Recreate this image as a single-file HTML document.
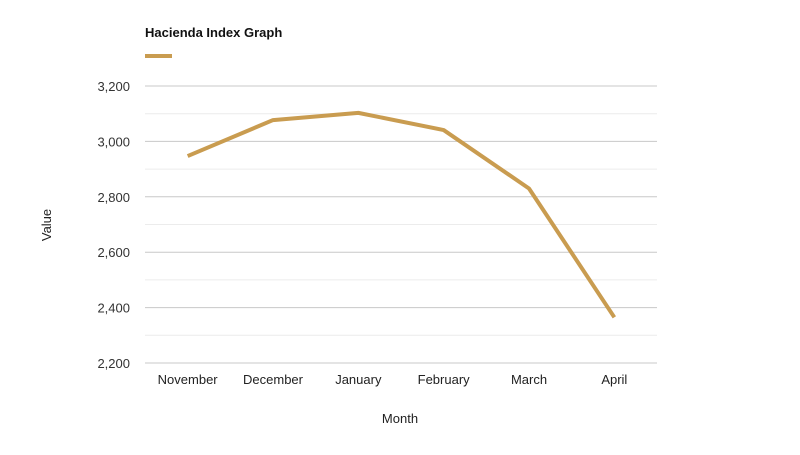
<!DOCTYPE html>
<html><head><meta charset="utf-8"><style>
body{margin:0;background:#fff;font-family:"Liberation Sans",sans-serif;}
svg text{font-family:"Liberation Sans",sans-serif;}
</style></head><body>
<svg id="chart" width="800" height="450">
<text x="145" y="37" font-size="13" font-weight="bold" fill="#111">Hacienda Index Graph</text>
<line x1="145" y1="56" x2="172" y2="56" stroke="#c99c50" stroke-width="4"/>
<g id="grid"></g><g id="yticks"></g><g id="xticks"></g>
<text x="400" y="423" font-size="13" text-anchor="middle" fill="#222">Month</text>
<text transform="translate(51,225) rotate(-90)" font-size="13" text-anchor="middle" fill="#222">Value</text>
<path id="line" fill="none" stroke="#c99c50" stroke-width="4" stroke-linejoin="round"/>
</svg>
<script>
const categories=["November","December","January","February","March","April"];
const values=[2947,3077,3103,3041,2830,2365];
const yTicks=[2200,2400,2600,2800,3000,3200];
const ns="http://www.w3.org/2000/svg";
const X0=145,X1=657,Y0=363,Y1=86,ymin=2200,ymax=3200;
const bw=(X1-X0)/categories.length;
const xs=i=>X0+bw*(i+0.5);
const ys=v=>Y0-(v-ymin)/(ymax-ymin)*(Y0-Y1);
function mk(t,a,p){const e=document.createElementNS(ns,t);for(const k in a)e.setAttribute(k,a[k]);p.appendChild(e);return e;}
const grid=document.getElementById('grid');
for(let v=ymin;v<=ymax;v+=100){
  const major=(v-ymin)%200===0;
  const l=mk('line',{x1:X0,x2:X1,y1:ys(v),y2:ys(v),stroke:major?'#c8c8c8':'#ececec','stroke-width':1},grid);
  
  
}
const yt=document.getElementById('yticks');
yTicks.forEach(v=>{
  const t=mk('text',{x:130,y:ys(v)+5,'font-size':13,'text-anchor':'end',fill:'#333'},yt);
  t.textContent=v.toLocaleString('en-US');
  
  
});
const xt=document.getElementById('xticks');
categories.forEach((c,i)=>{
  const t=mk('text',{x:xs(i),y:384,'font-size':13,'text-anchor':'middle',fill:'#222'},xt);
  t.textContent=c;
  
  
});
document.getElementById('line').setAttribute('d',values.map((v,i)=>(i?'L':'M')+xs(i)+','+ys(v)).join(''));
</script>
</body></html>
